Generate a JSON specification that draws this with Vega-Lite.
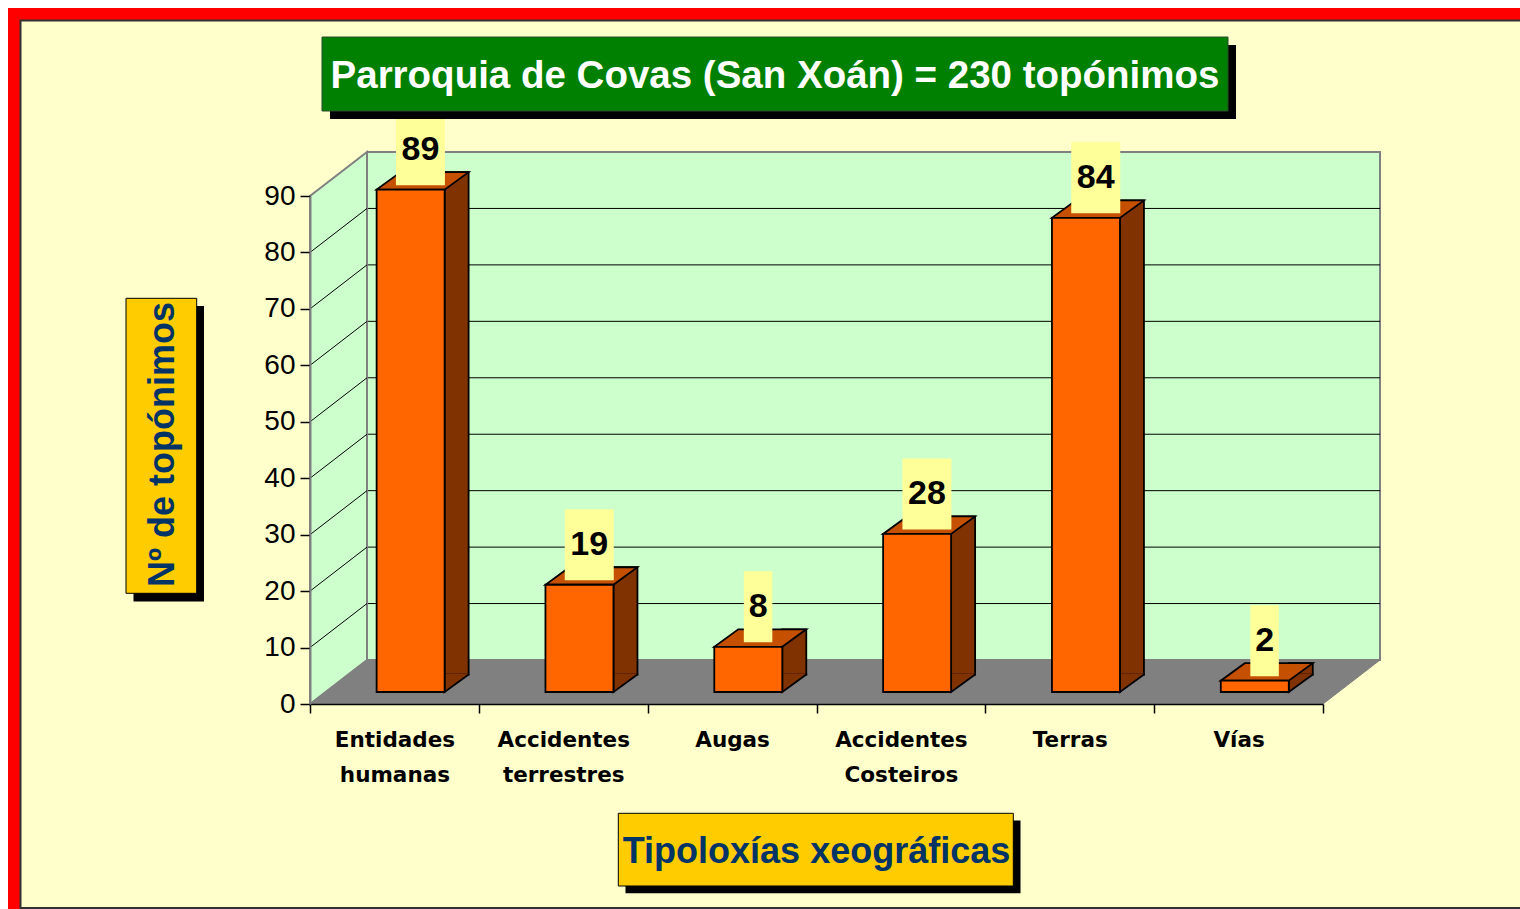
{
  "$schema": "https://vega.github.io/schema/vega-lite/v6.json",
  "width": 1013,
  "height": 508,
  "autosize": {"type": "none"},
  "padding": {"left": 367, "top": 152, "right": 140, "bottom": 249},
  "background": "white",
  "config": {"view": {"stroke": null, "fill": null}, "axis": {"grid": false}},
  "data": {"values": [
    {"tipo": "Entidades humanas", "n": 89},
    {"tipo": "Accidentes terrestres", "n": 19},
    {"tipo": "Augas", "n": 8},
    {"tipo": "Accidentes Costeiros", "n": 28},
    {"tipo": "Terras", "n": 84},
    {"tipo": "Vías", "n": 2}
  ]},
  "datasets": {
    "grid": [{"v": 10}, {"v": 20}, {"v": 30}, {"v": 40}, {"v": 50}, {"v": 60}, {"v": 70}, {"v": 80}],
    "one": [{}]
  },
  "layer": [
    {
      "data": {"name": "one"},
      "mark": {"type": "point", "shape": "M-359,-144H1163V768H-359Z", "size": 4, "filled": true, "opacity": 1, "fill": "#FF0000", "strokeWidth": 0},
      "encoding": {"x": {"datum": "Entidades humanas", "type": "nominal", "bandPosition": 0}, "y": {"datum": 90, "type": "quantitative"}}
    },
    {
      "data": {"name": "one"},
      "mark": {"type": "point", "shape": "M-346.5,-131.5H1163V756H-346.5Z", "size": 4, "filled": true, "opacity": 1, "fill": "#FFFFCC", "stroke": "#333333", "strokeWidth": 2},
      "encoding": {"x": {"datum": "Entidades humanas", "type": "nominal", "bandPosition": 0}, "y": {"datum": 90, "type": "quantitative"}}
    },
    {
      "data": {"name": "one"},
      "mark": {"type": "point", "shape": "M0,0H1013V508H0Z", "size": 4, "filled": true, "opacity": 1, "fill": "#CCFFCC", "stroke": "#808080", "strokeWidth": 2},
      "encoding": {"x": {"datum": "Entidades humanas", "type": "nominal", "bandPosition": 0}, "y": {"datum": 90, "type": "quantitative"}}
    },
    {
      "data": {"name": "grid"},
      "mark": {"type": "rule", "color": "#000000", "strokeWidth": 1},
      "encoding": {"y": {"field": "v", "type": "quantitative"}}
    },
    {
      "data": {"name": "one"},
      "mark": {"type": "point", "shape": "M0,508V0L-57,44V552Z", "size": 4, "filled": true, "opacity": 1, "fill": "#CCFFCC", "stroke": "#808080", "strokeWidth": 2},
      "encoding": {"x": {"datum": "Entidades humanas", "type": "nominal", "bandPosition": 0}, "y": {"datum": 90, "type": "quantitative"}}
    },
    {
      "data": {"name": "grid"},
      "mark": {"type": "point", "shape": "M0,0L-57,44", "size": 4, "filled": false, "opacity": 1, "stroke": "#000000", "strokeWidth": 1},
      "encoding": {"x": {"datum": "Entidades humanas", "type": "nominal", "bandPosition": 0}, "y": {"field": "v", "type": "quantitative"}}
    },
    {
      "data": {"name": "one"},
      "mark": {"type": "point", "shape": "M0,508H1013L956,552H-57Z", "size": 4, "filled": true, "opacity": 1, "fill": "#808080", "stroke": "#808080", "strokeWidth": 1},
      "encoding": {"x": {"datum": "Entidades humanas", "type": "nominal", "bandPosition": 0}, "y": {"datum": 90, "type": "quantitative"}}
    },
    {
      "mark": {"type": "bar", "width": 24, "xOffset": 5.2, "yOffset": 14.5, "y2Offset": 14.5, "fill": "#803300", "stroke": "#000000", "strokeWidth": 1.8},
      "encoding": {
        "x": {
          "field": "tipo", "type": "nominal", "sort": null,
          "scale": {"type": "band", "domain": ["Entidades humanas", "Accidentes terrestres", "Augas", "Accidentes Costeiros", "Terras", "Vías"], "paddingInner": 0, "paddingOuter": 0},
          "axis": {
            "orient": "bottom", "offset": 44, "position": -57, "tickBand": "extent",
            "domainColor": "#000000", "domainWidth": 1.5, "tickColor": "#000000", "tickSize": 9, "tickWidth": 1.5,
            "labelFont": "DejaVu Sans", "labelFontWeight": "bold", "labelFontSize": 21.5, "labelColor": "#000000",
            "labelPadding": 16, "labelBaseline": "top", "labelAlign": "center", "labelLineHeight": 35, "labelAngle": 0, "labelLimit": 0,
            "labelExpr": "split(datum.label, ' ')",
            "title": "Tipoloxías xeográficas", "titleFont": "Liberation Sans", "titleFontSize": 36, "titleFontWeight": "bold",
            "titleColor": "#003366", "titleX": 506, "titleY": 158, "titleAlign": "center", "titleBaseline": "alphabetic",
            "zindex": 3
          }
        },
        "y": {
          "field": "n", "type": "quantitative",
          "scale": {"domain": [0, 90], "nice": false},
          "axis": {
            "orient": "left", "offset": 57, "position": 44, "values": [0, 10, 20, 30, 40, 50, 60, 70, 80, 90],
            "domainColor": "#808080", "domainWidth": 2, "tickColor": "#000000", "tickSize": 10, "tickWidth": 1.5,
            "labelFont": "Liberation Sans", "labelFontSize": 28, "labelColor": "#000000", "labelPadding": 5,
            "title": "Nº de topónimos", "titleFont": "Liberation Sans", "titleFontSize": 36, "titleFontWeight": "bold",
            "titleColor": "#003366", "titleAngle": 270, "titleX": -137, "titleY": 248, "titleAlign": "center", "titleBaseline": "alphabetic",
            "zindex": 3
          }
        },
        "y2": {"datum": 0}
      }
    },
    {
      "mark": {"type": "point", "shape": "M17.2,13.5V14.5L-6.8,32V13.5", "size": 4, "filled": true, "opacity": 1, "fill": "#803300", "stroke": "#000000", "strokeWidth": 1.8},
      "encoding": {"x": {"field": "tipo", "type": "nominal", "sort": null}, "y": {"datum": 0, "type": "quantitative"}}
    },
    {
      "mark": {"type": "point", "shape": "M-74.8,32H-6.8L17.2,14.5H-50.8Z", "size": 4, "filled": true, "opacity": 1, "fill": "#C45000", "stroke": "#000000", "strokeWidth": 1.8},
      "encoding": {"x": {"field": "tipo", "type": "nominal", "sort": null}, "y": {"field": "n", "type": "quantitative"}}
    },
    {
      "mark": {"type": "bar", "width": 68, "xOffset": -40.8, "yOffset": 32, "y2Offset": 32, "fill": "#FF6600", "stroke": "#000000", "strokeWidth": 1.8},
      "encoding": {"x": {"field": "tipo", "type": "nominal", "sort": null}, "y": {"field": "n", "type": "quantitative"}, "y2": {"datum": 0}}
    },
    {
      "mark": {"type": "point", "size": 4, "filled": true, "opacity": 1, "fill": "#FFFF99", "strokeWidth": 0},
      "encoding": {
        "x": {"field": "tipo", "type": "nominal", "sort": null},
        "y": {"field": "n", "type": "quantitative"},
        "shape": {"condition": {"test": "datum.n < 10", "value": "M-45.25,-43.5H-16.75V27.5H-45.25Z"}, "value": "M-55.5,-43.5H-6.5V27.5H-55.5Z"}
      }
    },
    {
      "mark": {"type": "text", "dx": -31, "dy": 2.5, "align": "center", "baseline": "alphabetic", "font": "Liberation Sans", "fontSize": 34, "fontWeight": "bold", "color": "#000000"},
      "encoding": {"x": {"field": "tipo", "type": "nominal", "sort": null}, "y": {"field": "n", "type": "quantitative"}, "text": {"field": "n", "type": "quantitative"}}
    },
    {
      "data": {"name": "one"},
      "mark": {"type": "point", "shape": "M-37,-107H869V-33H-37Z", "size": 4, "filled": true, "opacity": 1, "fill": "#000000", "strokeWidth": 0},
      "encoding": {"x": {"datum": "Entidades humanas", "type": "nominal", "bandPosition": 0}, "y": {"datum": 90, "type": "quantitative"}}
    },
    {
      "data": {"name": "one"},
      "mark": {"type": "point", "shape": "M-45,-115H861V-41H-45Z", "size": 4, "filled": true, "opacity": 1, "fill": "#008000", "stroke": "#2D4D2D", "strokeWidth": 1},
      "encoding": {"x": {"datum": "Entidades humanas", "type": "nominal", "bandPosition": 0}, "y": {"datum": 90, "type": "quantitative"}}
    },
    {
      "data": {"name": "one"},
      "mark": {"type": "text", "text": "Parroquia de Covas (San Xoán) = 230 topónimos", "dx": 408, "dy": -64.5, "align": "center", "baseline": "alphabetic", "font": "Liberation Sans", "fontSize": 38.5, "fontWeight": "bold", "color": "#FFFFFF"},
      "encoding": {"x": {"datum": "Entidades humanas", "type": "nominal", "bandPosition": 0}, "y": {"datum": 90, "type": "quantitative"}}
    },
    {
      "data": {"name": "one"},
      "mark": {"type": "point", "shape": "M-233.5,154H-163V449.5H-233.5Z", "size": 4, "filled": true, "opacity": 1, "fill": "#000000", "strokeWidth": 0},
      "encoding": {"x": {"datum": "Entidades humanas", "type": "nominal", "bandPosition": 0}, "y": {"datum": 90, "type": "quantitative"}}
    },
    {
      "data": {"name": "one"},
      "mark": {"type": "point", "shape": "M-241,146.3H-170.3V441.3H-241Z", "size": 4, "filled": true, "opacity": 1, "fill": "#FFCC00", "stroke": "#000000", "strokeWidth": 1},
      "encoding": {"x": {"datum": "Entidades humanas", "type": "nominal", "bandPosition": 0}, "y": {"datum": 90, "type": "quantitative"}}
    },
    {
      "data": {"name": "one"},
      "mark": {"type": "point", "shape": "M258.5,668.5H653.5V741.3H258.5Z", "size": 4, "filled": true, "opacity": 1, "fill": "#000000", "strokeWidth": 0},
      "encoding": {"x": {"datum": "Entidades humanas", "type": "nominal", "bandPosition": 0}, "y": {"datum": 90, "type": "quantitative"}}
    },
    {
      "data": {"name": "one"},
      "mark": {"type": "point", "shape": "M251.3,661.3H646.3V734H251.3Z", "size": 4, "filled": true, "opacity": 1, "fill": "#FFCC00", "stroke": "#000000", "strokeWidth": 1},
      "encoding": {"x": {"datum": "Entidades humanas", "type": "nominal", "bandPosition": 0}, "y": {"datum": 90, "type": "quantitative"}}
    }
  ]
}
